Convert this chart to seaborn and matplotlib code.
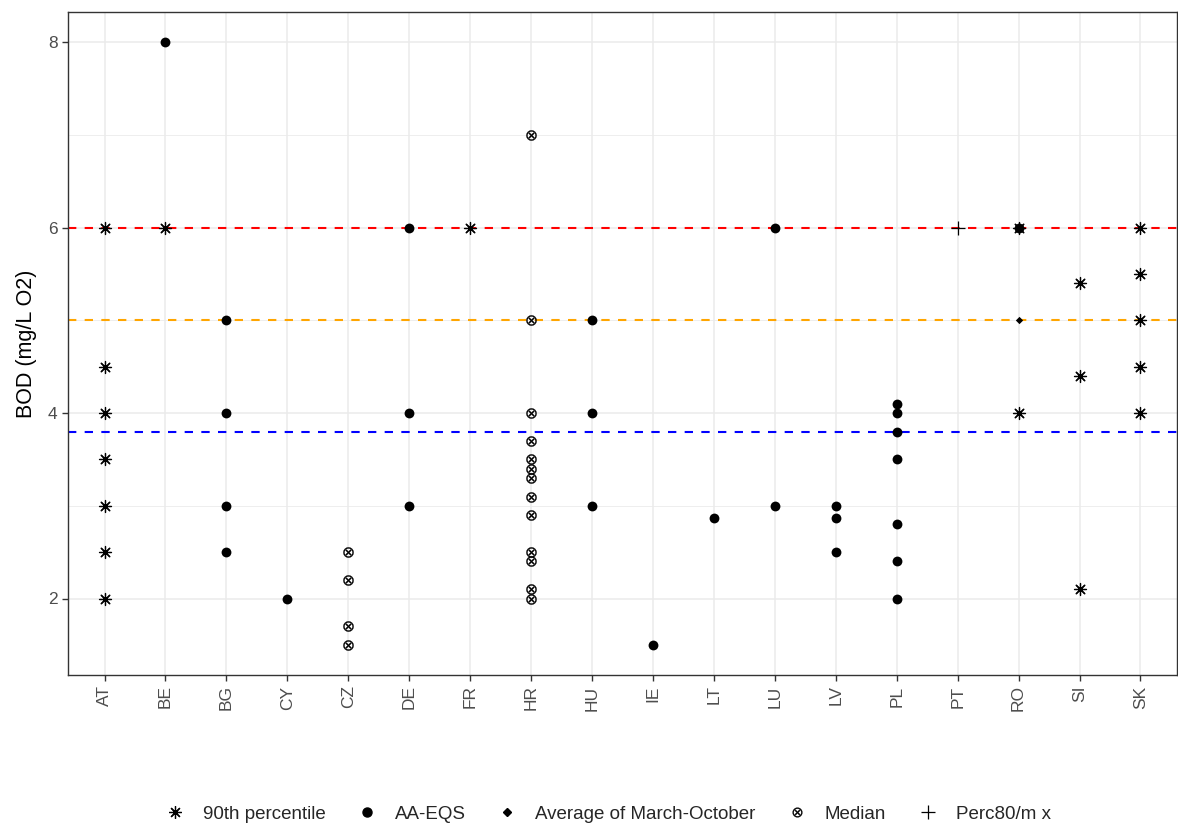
import numpy as np
import pandas as pd
import matplotlib
matplotlib.use("Agg")
import matplotlib.pyplot as plt
from matplotlib.lines import Line2D
import seaborn as sns

# Countries on the x axis
categories = ["AT", "BE", "BG", "CY", "CZ", "DE", "FR", "HR", "HU",
              "IE", "LT", "LU", "LV", "PL", "PT", "RO", "SI", "SK"]

# 90th percentile thresholds
p90_country = ["AT"] * 7 + ["BE", "FR", "RO", "RO", "SI", "SI", "SI"] + ["SK"] * 5
p90_value = [6, 4.5, 4, 3.5, 3, 2.5, 2, 6, 6, 6, 4, 5.4, 4.4, 2.1, 6, 5.5, 5, 4.5, 4]

# Annual average EQS thresholds
aa_country = (["BE"] + ["BG"] * 4 + ["CY"] + ["DE"] * 3 + ["HU"] * 3 + ["IE", "LT"]
              + ["LU"] * 2 + ["LV"] * 3 + ["PL"] * 7 + ["RO"])
aa_value = [8, 5, 4, 3, 2.5, 2, 6, 4, 3, 5, 4, 3, 1.5, 2.87, 6, 3, 3, 2.87, 2.5,
            4.1, 4, 3.8, 3.5, 2.8, 2.4, 2, 6]

# Average of March-October
avg_country = ["RO"]
avg_value = [5]

# Median thresholds
median_country = ["CZ"] * 4 + ["HR"] * 13
median_value = [2.5, 2.2, 1.7, 1.5, 7, 5, 4, 3.7, 3.5, 3.4, 3.3, 3.1, 2.9, 2.5, 2.4, 2.1, 2.0]

# Perc80/max
p80_country = ["PT"]
p80_value = [6]

# Reference class boundaries
ref_levels = [6, 5, 3.8]
ref_colors = ["#FF0000", "#FFA500", "#0000FF"]

series = [
    ("90th percentile", p90_country, p90_value),
    ("AA-EQS", aa_country, aa_value),
    ("Average of March-October", avg_country, avg_value),
    ("Median", median_country, median_value),
    ("Perc80/m x", p80_country, p80_value),
]

frames = []
for name, cc, vv in series:
    frames.append(pd.DataFrame({"country": cc, "value": vv, "type": name}))
df = pd.concat(frames, ignore_index=True)
df["xpos"] = df["country"].map({c: i for i, c in enumerate(categories)})

sns.set_theme(style="white")
plt.rcParams["font.family"] = ["Liberation Sans", "DejaVu Sans"]

W, H = 1178, 823
fig = plt.figure(figsize=(W / 100, H / 100), dpi=100)
ax = fig.add_axes([68 / W, (H - 675) / H, (1177 - 68) / W, (675 - 12) / H])

# grid
ax.set_axisbelow(True)
for y in [2, 4, 6, 8]:
    ax.axhline(y, color="#EBEBEB", lw=1.1, zorder=0)
for y in [3, 5, 7]:
    ax.axhline(y, color="#EBEBEB", lw=0.6, zorder=0)
for i in range(len(categories)):
    ax.axvline(i, color="#EBEBEB", lw=1.1, zorder=0)

for lvl, col in zip(ref_levels, ref_colors):
    ax.axhline(lvl, color=col, lw=1.5, ls=(0, (4, 4)), zorder=1)

styles = {
    "90th percentile": dict(marker=(8, 2, 0), s=75, linewidth=0.9),
    "AA-EQS": dict(marker="o", s=50, linewidth=0),
    "Average of March-October": dict(marker="D", s=14, linewidth=0),
    "Median": dict(marker="$\\otimes$", s=55, linewidth=0.2),
    "Perc80/m x": dict(marker="+", s=90, linewidth=0.9),
}

for name, _, _ in series:
    sub = df[df["type"] == name]
    sns.scatterplot(data=sub, x="xpos", y="value", color="black", ax=ax,
                    edgecolor="black", legend=False, zorder=3, **styles[name])

ax.set_xlim(-0.6, len(categories) - 1 + 0.6)
ax.set_ylim(1.175, 8.325)
ax.set_xticks(range(len(categories)))
ax.set_xticklabels(categories, rotation=90, fontsize=12.5, color="#4D4D4D")
ax.set_yticks([2, 4, 6, 8])
ax.set_yticklabels(["2", "4", "6", "8"], fontsize=12.5, color="#4D4D4D")
ax.tick_params(axis="both", length=4, width=1, color="#333333", bottom=True, left=True)
ax.set_xlabel("")
ax.set_ylabel("BOD (mg/L O2)", fontsize=15.5, color="black", labelpad=8)
for sp in ax.spines.values():
    sp.set_color("#333333")
    sp.set_linewidth(1.0)

handles = [
    Line2D([], [], ls="", marker=(8, 2, 0), ms=9, mew=0.9, color="black"),
    Line2D([], [], ls="", marker="o", ms=6.5, color="black"),
    Line2D([], [], ls="", marker="D", ms=4, color="black"),
    Line2D([], [], ls="", marker="$\\otimes$", ms=7, mew=0.2, color="black"),
    Line2D([], [], ls="", marker="+", ms=10, mew=0.9, color="black"),
]
labels = [s[0] for s in series]
fig.legend(handles, labels, loc="center", bbox_to_anchor=(607 / W, 9 / H),
           ncol=5, frameon=False, fontsize=13.5, handletextpad=0.9,
           columnspacing=1.6, handlelength=1.2)

fig.savefig("out.png", dpi=100)
